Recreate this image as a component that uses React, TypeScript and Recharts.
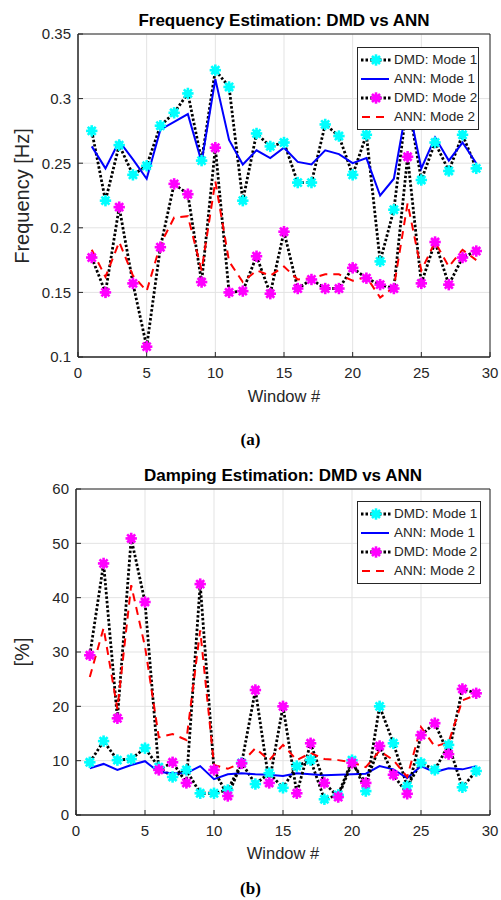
import React from 'react';
import { LineChart, Line, XAxis, YAxis, CartesianGrid, ReferenceArea } from 'recharts';

const windows = [1, 2, 3, 4, 5, 6, 7, 8, 9, 10, 11, 12, 13, 14, 15, 16, 17, 18, 19, 20, 21, 22, 23, 24, 25, 26, 27, 28, 29];

// frequency [Hz]
const freqDmd1 = [0.275, 0.221, 0.264, 0.241, 0.248, 0.279, 0.289, 0.304, 0.252, 0.322, 0.309, 0.221, 0.273, 0.263, 0.266, 0.235, 0.235, 0.280, 0.271, 0.241, 0.272, 0.174, 0.214, 0.300, 0.237, 0.266, 0.244, 0.272, 0.246];
const freqAnn1 = [0.263, 0.246, 0.267, 0.253, 0.238, 0.276, 0.282, 0.288, 0.251, 0.315, 0.268, 0.249, 0.260, 0.254, 0.262, 0.251, 0.249, 0.260, 0.257, 0.250, 0.254, 0.225, 0.238, 0.298, 0.246, 0.270, 0.252, 0.266, 0.250];
const freqDmd2 = [0.177, 0.150, 0.216, 0.157, 0.108, 0.185, 0.234, 0.226, 0.158, 0.262, 0.150, 0.151, 0.178, 0.149, 0.197, 0.153, 0.160, 0.153, 0.153, 0.169, 0.161, 0.156, 0.153, 0.255, 0.157, 0.189, 0.156, 0.177, 0.182];
const freqAnn2 = [0.183, 0.162, 0.189, 0.163, 0.151, 0.187, 0.208, 0.209, 0.167, 0.236, 0.174, 0.158, 0.167, 0.163, 0.170, 0.160, 0.161, 0.164, 0.164, 0.159, 0.162, 0.146, 0.154, 0.219, 0.167, 0.189, 0.170, 0.183, 0.175];

// damping [%]
const dampDmd1 = [9.7, 13.6, 10.1, 10.3, 12.3, 8.8, 7.0, 8.3, 4.0, 4.0, 4.6, 9.6, 5.7, 7.7, 5.0, 9.0, 10.1, 2.9, 3.7, 10.1, 4.4, 20.0, 13.2, 5.3, 9.6, 8.3, 12.9, 5.1, 8.1];
const dampAnn1 = [8.6, 9.4, 8.3, 9.2, 9.9, 7.9, 7.7, 7.7, 9.0, 6.6, 7.5, 7.7, 7.5, 7.4, 7.2, 7.7, 7.5, 7.3, 7.4, 7.5, 7.6, 9.0, 8.4, 6.8, 9.0, 7.9, 8.6, 8.4, 9.0];
const dampDmd2 = [29.4, 46.3, 17.8, 50.9, 39.2, 8.3, 9.7, 5.9, 42.5, 8.3, 3.5, 9.5, 23.0, 5.9, 20.0, 4.0, 13.2, 5.9, 3.3, 9.6, 5.9, 12.7, 7.4, 3.9, 14.7, 16.9, 11.2, 23.2, 22.4];
const dampAnn2 = [25.4, 34.4, 19.5, 42.3, 31.0, 14.3, 14.9, 13.8, 34.0, 9.2, 8.5, 9.6, 12.3, 10.1, 12.9, 10.1, 11.4, 10.3, 10.1, 9.7, 8.8, 11.8, 10.1, 7.0, 16.2, 12.6, 13.4, 21.1, 22.1];

const xTicks = [0, 5, 10, 15, 20, 25, 30];
const freqTicks = [0.1, 0.15, 0.2, 0.25, 0.3, 0.35];
const dampTicks = [0, 10, 20, 30, 40, 50, 60];

const FONT = '"Liberation Sans", Arial, sans-serif';
const SERIF = '"Liberation Serif", "DejaVu Serif", serif';
const AX = '#262626';
const CYAN = '#00ffff';
const MAGENTA = '#ff00ff';

const freqData = windows.map((w, i) => ({ w, dmd1: freqDmd1[i], ann1: freqAnn1[i], dmd2: freqDmd2[i], ann2: freqAnn2[i] }));
const dampData = windows.map((w, i) => ({ w, dmd1: dampDmd1[i], ann1: dampAnn1[i], dmd2: dampDmd2[i], ann2: dampAnn2[i] }));

// MATLAB-ish '*' marker
const Star = ({ cx, cy, color }: { cx: number; cy: number; color: string }) => (
  <g>
    <circle cx={cx} cy={cy} r={3.8} fill={color} />
    {[0, 45, 90, 135].map((a) => {
      const r = (a * Math.PI) / 180;
      const dx = 5.7 * Math.cos(r);
      const dy = 5.7 * Math.sin(r);
      return <line key={a} x1={cx - dx} y1={cy - dy} x2={cx + dx} y2={cy + dy} stroke={color} strokeWidth={2.6} />;
    })}
  </g>
);

const starDot = (color: string) => (p: any) => {
  if (p.cx == null || p.cy == null) return <g key={p.index} />;
  return <Star key={p.index} cx={p.cx} cy={p.cy} color={color} />;
};

const legendItems = [
  { name: 'DMD: Mode 1', kind: 'dmd', color: CYAN },
  { name: 'ANN: Mode 1', kind: 'solid', color: '#0000ff' },
  { name: 'DMD: Mode 2', kind: 'dmd', color: MAGENTA },
  { name: 'ANN: Mode 2', kind: 'dash', color: '#ff0000' },
];

const LegendBox = ({ top, left, width }: { top: number; left: number; width: number }) => (
  <div style={{ position: 'absolute', top, left, width, boxSizing: 'border-box', border: `1px solid ${AX}`, background: '#fff', padding: '2px 0 3px 2px', fontFamily: FONT, fontSize: 13.5, color: AX }}>
    {legendItems.map((it) => (
      <div key={it.name} style={{ display: 'flex', alignItems: 'center', height: 19 }}>
        <svg width={32} height={14} style={{ flex: 'none' }}>
          {it.kind === 'dmd' && (
            <>
              <line x1={1} y1={7} x2={31} y2={7} stroke="#000" strokeWidth={2.8} strokeDasharray="2.5 2" />
              <Star cx={16} cy={7} color={it.color} />
            </>
          )}
          {it.kind === 'solid' && <line x1={1} y1={7} x2={29} y2={7} stroke={it.color} strokeWidth={2} />}
          {it.kind === 'dash' && <line x1={2} y1={7} x2={30} y2={7} stroke={it.color} strokeWidth={2} strokeDasharray="8 6" />}
        </svg>
        <span style={{ marginLeft: 2 }}>{it.name}</span>
      </div>
    ))}
  </div>
);

const tickStyle = { fontSize: 15, fill: AX, fontFamily: FONT };

function renderLines() {
  return [
    <Line key="d1" dataKey="dmd1" stroke="#000" strokeWidth={2.8} strokeDasharray="2.5 2" dot={starDot(CYAN)} activeDot={false} isAnimationActive={false} />,
    <Line key="a1" dataKey="ann1" stroke="#0000ff" strokeWidth={2} dot={false} activeDot={false} isAnimationActive={false} />,
    <Line key="d2" dataKey="dmd2" stroke="#000" strokeWidth={2.8} strokeDasharray="2.5 2" dot={starDot(MAGENTA)} activeDot={false} isAnimationActive={false} />,
    <Line key="a2" dataKey="ann2" stroke="#ff0000" strokeWidth={2} strokeDasharray="8 6" dot={false} activeDot={false} isAnimationActive={false} />,
  ];
}

const abs = (top: number, left: number, extra: React.CSSProperties = {}): React.CSSProperties => ({ position: 'absolute', top, left, fontFamily: FONT, color: AX, ...extra });

export default function App() {
  return (
    <div style={{ position: 'absolute', left: 0, top: 0, width: 501, height: 900, background: '#fff', overflow: 'hidden' }}>
      {/* (a) frequency */}
      <div style={abs(0, 0)}>
        <LineChart width={501} height={420} data={freqData} margin={{ top: 34, right: 11, left: 28, bottom: 33 }}>
          <CartesianGrid stroke="#e3e3e3" horizontalValues={freqTicks} verticalValues={xTicks} />
          <XAxis type="number" dataKey="w" domain={[0, 30]} ticks={xTicks} height={30} tickSize={-5} tickMargin={15} stroke={AX} tick={tickStyle} interval={0} />
          <YAxis type="number" domain={[0.1, 0.35]} ticks={freqTicks} width={50} tickSize={-5} tickMargin={12} stroke={AX} tick={tickStyle} interval={0} tickFormatter={(v) => String(+v.toFixed(2))} />
          <ReferenceArea x1={0} x2={30} y1={0.1} y2={0.35} fill="none" stroke={AX} strokeWidth={1} />
          {renderLines()}
        </LineChart>
      </div>
      <LegendBox top={47} left={357} width={122} />
      <div style={abs(11, 78, { width: 412, textAlign: 'center', fontWeight: 'bold', fontSize: 17, lineHeight: '20px', color: '#000' })}>Frequency Estimation: DMD vs ANN</div>
      <div style={abs(196, 22, { fontSize: 20, transform: 'translate(-50%, -50%) rotate(-90deg)', whiteSpace: 'nowrap' })}>Frequency [Hz]</div>
      <div style={abs(386, 78, { width: 412, textAlign: 'center', fontSize: 16.5, lineHeight: '20px' })}>Window #</div>
      <div style={abs(430, 0, { width: 501, textAlign: 'center', fontSize: 17, fontWeight: 'bold', fontFamily: SERIF, color: '#000', lineHeight: '20px' })}>(a)</div>

      {/* (b) damping */}
      <div style={abs(455, 0)}>
        <LineChart width={501} height={420} data={dampData} margin={{ top: 34, right: 11, left: 26, bottom: 30 }}>
          <CartesianGrid stroke="#e3e3e3" horizontalValues={dampTicks} verticalValues={xTicks} />
          <XAxis type="number" dataKey="w" domain={[0, 30]} ticks={xTicks} height={30} tickSize={-5} tickMargin={15} stroke={AX} tick={tickStyle} interval={0} />
          <YAxis type="number" domain={[0, 60]} ticks={dampTicks} width={50} tickSize={-5} tickMargin={12} stroke={AX} tick={tickStyle} interval={0} />
          <ReferenceArea x1={0} x2={30} y1={0} y2={60} fill="none" stroke={AX} strokeWidth={1} />
          {renderLines()}
        </LineChart>
      </div>
      <LegendBox top={501} left={357} width={124} />
      <div style={abs(466, 76, { width: 414, textAlign: 'center', fontWeight: 'bold', fontSize: 17, lineHeight: '20px', color: '#000' })}>Damping Estimation: DMD vs ANN</div>
      <div style={abs(652, 22, { fontSize: 20, transform: 'translate(-50%, -50%) rotate(-90deg)', whiteSpace: 'nowrap' })}>[%]</div>
      <div style={abs(843, 76, { width: 414, textAlign: 'center', fontSize: 16.5, lineHeight: '20px' })}>Window #</div>
      <div style={abs(879, 0, { width: 501, textAlign: 'center', fontSize: 17, fontWeight: 'bold', fontFamily: SERIF, color: '#000', lineHeight: '20px' })}>(b)</div>
    </div>
  );
}
